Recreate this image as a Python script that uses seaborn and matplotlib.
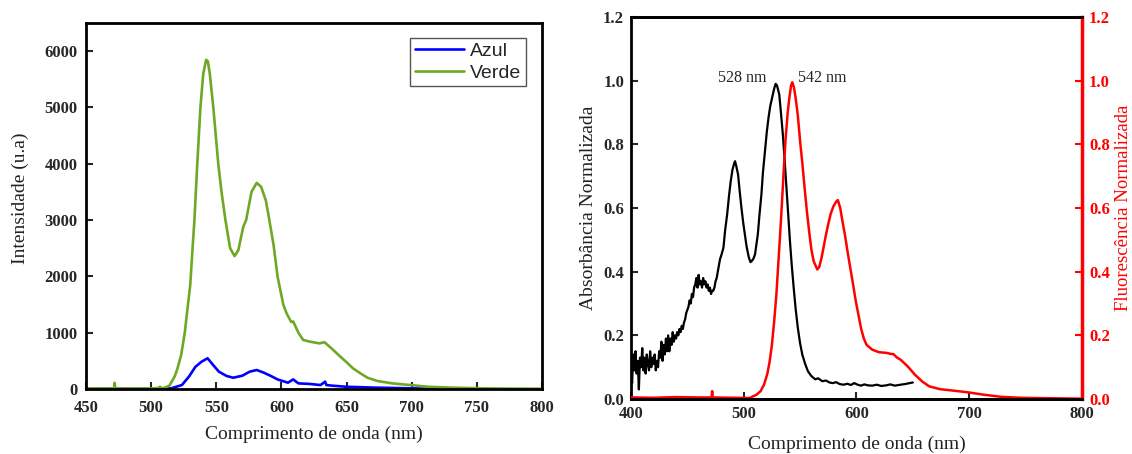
import numpy as np
import matplotlib
matplotlib.use("Agg")
import matplotlib.pyplot as plt
import seaborn as sns

# Emission spectra (left panel)
wl_verde = [450, 460, 470, 471.5, 472, 472.5, 480, 490, 500, 505, 507, 507.5,
            510, 514, 518, 520, 523, 525.8, 528, 530, 531.5, 533.2, 535.4,
            537.8, 540, 542.2, 543.5, 545, 547.7, 551.5, 554, 557, 560.6, 564,
            566.9, 570.7, 572.9, 577, 581, 584.4, 588, 590.7, 594, 597, 601.4,
            604, 607.5, 609, 610, 613, 616.7, 622, 629, 633, 635, 638.5, 644,
            649.5, 655, 660.5, 666, 674, 685, 699, 712, 729, 753, 775, 800]
int_verde = [10, 8, 10, 10, 110, 10, 8, 12, 10, 15, 40, 12,
             20, 60, 220, 350, 600, 1000, 1450, 1850, 2400, 3000, 4000,
             5000, 5600, 5845, 5820, 5600, 5000, 4000, 3500, 3000, 2500, 2360,
             2465, 2880, 3000, 3500, 3660, 3590, 3350, 3000, 2550, 2000, 1500,
             1340, 1190, 1200, 1150, 1000, 870, 840, 810, 830, 790, 720, 600,
             485, 365, 280, 200, 140, 100, 70, 40, 25, 12, 8, 5]

wl_azul = [450, 470, 490, 505, 515, 523.6, 529, 534, 538.7, 543.3, 547.6, 552,
           558, 563, 570, 575.6, 581, 586.4, 592, 597, 605, 609, 613, 621.5,
           630, 633.5, 634.5, 638.5, 649.5, 671, 699, 720]
int_azul = [5, 8, 6, 8, 10, 70, 220, 395, 485, 545, 425, 307,
            230, 200, 236, 307, 337, 290, 230, 170, 112, 170, 100, 90,
            70, 130, 70, 60, 40, 25, 12, 5]

# Normalised absorbance / fluorescence (right panel)
wl_abs = [400, 401, 402, 403, 404, 405, 406, 407, 408, 409, 410, 411, 412,
          413, 414, 415, 416, 417, 418, 419, 420, 421, 422, 423, 424, 425,
          426, 427, 428, 429, 430, 431, 432, 433, 434, 435, 436, 437, 438,
          439, 440, 441, 442, 443, 444, 445, 446, 447, 448, 449, 450, 451,
          452, 453, 454, 455, 456, 457, 458, 459, 460, 461, 462, 463, 464,
          465, 466, 467, 468, 469, 470, 471, 472, 473, 474, 475, 476, 477,
          478, 479, 480, 482, 483.5, 485.3, 487, 488.5, 490, 491.5, 492.3,
          493.5, 495, 496.5, 498, 499.5, 501, 502.5, 504.5, 506, 507, 508.5,
          510, 511, 512.5, 514, 515.7, 517, 518.9, 520.5, 522, 523.5, 525.2,
          527, 528.3, 529.5, 531.5, 533, 534.7, 536.3, 537.9, 539.5, 541,
          542.6, 544.3, 546, 548, 550, 552, 554.5, 557, 560, 563.4, 566,
          569.7, 573, 576, 579, 582, 585, 588.6, 592, 595, 598, 601, 604, 607,
          610, 614, 618, 622, 626.5, 630, 634, 639, 643, 647, 650]
absorb = [0.10, 0.05, 0.14, 0.09, 0.15, 0.08, 0.12, 0.03, 0.13, 0.10, 0.16,
          0.09, 0.13, 0.08, 0.14, 0.11, 0.09, 0.15, 0.10, 0.13, 0.11, 0.14,
          0.09, 0.12, 0.10, 0.15, 0.13, 0.18, 0.12, 0.17, 0.14, 0.19, 0.15,
          0.20, 0.15, 0.19, 0.17, 0.21, 0.18, 0.20, 0.19, 0.21, 0.20, 0.22,
          0.21, 0.23, 0.22, 0.24, 0.25, 0.27, 0.28, 0.29, 0.31, 0.30, 0.33,
          0.32, 0.35, 0.36, 0.38, 0.35, 0.39, 0.36, 0.37, 0.35, 0.38, 0.36,
          0.37, 0.35, 0.36, 0.34, 0.35, 0.33, 0.34, 0.34, 0.35, 0.37, 0.38,
          0.40, 0.42, 0.44, 0.45, 0.475, 0.53, 0.58, 0.64, 0.685, 0.72, 0.74,
          0.747, 0.73, 0.705, 0.65, 0.60, 0.555, 0.517, 0.48, 0.445, 0.43,
          0.433, 0.44, 0.454, 0.48, 0.517, 0.58, 0.643, 0.71, 0.779, 0.84,
          0.884, 0.92, 0.947, 0.975, 0.99, 0.985, 0.957, 0.90, 0.831, 0.75,
          0.663, 0.58, 0.496, 0.42, 0.35, 0.285, 0.223, 0.175, 0.139, 0.11,
          0.087, 0.072, 0.062, 0.065, 0.056, 0.058, 0.052, 0.05, 0.053, 0.047,
          0.045, 0.048, 0.044, 0.05, 0.045, 0.042, 0.046, 0.043, 0.042, 0.045,
          0.041, 0.043, 0.046, 0.042, 0.045, 0.047, 0.05, 0.052]

wl_fluo = [400, 420, 440, 460, 471.5, 472, 472.5, 490, 505, 511.6, 515, 518,
           521, 523, 525, 527, 529, 530.8, 532.5, 534, 535.5, 537, 539, 540.5,
           542, 543, 544.5, 546, 548, 550, 552, 554, 556, 558, 560, 562,
           565.3, 567, 569, 571, 573, 575, 577, 579.5, 582, 583.5, 585.6,
           587.5, 589.7, 592, 594.5, 597, 599.4, 602, 604, 606.5, 609, 614,
           620, 626.5, 630, 632.8, 636, 639, 645.3, 651.7, 658, 664.4, 674,
           686.7, 699, 712, 728, 745, 760, 780, 800]
fluor = [0.005, 0.004, 0.006, 0.005, 0.005, 0.025, 0.005, 0.004, 0.003, 0.014,
         0.025, 0.045, 0.08, 0.118, 0.17, 0.244, 0.33, 0.433, 0.53, 0.622,
         0.72, 0.81, 0.90, 0.947, 0.985, 0.995, 0.98, 0.947, 0.89, 0.81, 0.74,
         0.663, 0.59, 0.527, 0.47, 0.433, 0.407, 0.415, 0.443, 0.48, 0.517,
         0.55, 0.58, 0.605, 0.62, 0.625, 0.60, 0.56, 0.517, 0.465, 0.412,
         0.36, 0.307, 0.26, 0.223, 0.19, 0.17, 0.155, 0.147, 0.145, 0.142,
         0.141, 0.13, 0.124, 0.103, 0.077, 0.056, 0.04, 0.031, 0.026, 0.021,
         0.014, 0.007, 0.004, 0.003, 0.002, 0.001]

peak_labels = ["528 nm", "542 nm"]

sns.set_style("ticks")
plt.rcParams["font.family"] = ["Liberation Serif", "DejaVu Serif"]
plt.rcParams["xtick.direction"] = "in"
plt.rcParams["ytick.direction"] = "in"

verde = "#6fa824"
serif_big = 14
tick_size = 12

fig = plt.figure(figsize=(11.32, 4.54), dpi=100)
ax1 = fig.add_axes([0.0760, 0.1432, 0.4028, 0.8062])
ax2 = fig.add_axes([0.5574, 0.1211, 0.3984, 0.8414])
ax3 = ax2.twinx()

# Left panel: emission
sns.lineplot(x=wl_azul, y=int_azul, ax=ax1, color="#0000ff", linewidth=1.9,
             label="Azul", sort=False)
sns.lineplot(x=wl_verde, y=int_verde, ax=ax1, color=verde, linewidth=1.9,
             label="Verde", sort=False)
ax1.set_xlim(450, 800)
ax1.set_ylim(0, 6500)
ax1.set_xticks(np.arange(450, 801, 50))
ax1.set_yticks(np.arange(0, 6001, 1000))
ax1.set_xlabel("Comprimento de onda (nm)", fontsize=serif_big, color="#222222")
ax1.set_ylabel("Intensidade (u.a)", fontsize=serif_big, color="#222222")
ax1.xaxis.set_label_coords(0.5, -0.10)
ax1.yaxis.set_label_coords(-0.125, 0.52)
leg = ax1.legend(loc="upper right", bbox_to_anchor=(0.964, 0.960),
                 borderaxespad=0, fancybox=False, edgecolor="#555555",
                 framealpha=1, handlelength=2.5, handletextpad=0.3,
                 labelspacing=0.2, borderpad=0.25,
                 prop={"family": "Liberation Sans", "size": 14})
leg.get_frame().set_linewidth(1.0)

for sp in ax1.spines.values():
    sp.set_linewidth(2)
    sp.set_color("black")
ax1.tick_params(axis="both", length=5, width=1.5, labelsize=tick_size)
ax1.tick_params(axis="x", pad=8)
ax1.tick_params(axis="y", pad=6)
for lab in ax1.get_xticklabels() + ax1.get_yticklabels():
    lab.set_fontweight("bold")

# Right panel: absorbance + fluorescence
sns.lineplot(x=wl_abs, y=absorb, ax=ax2, color="black", linewidth=1.6,
             sort=False)
sns.lineplot(x=wl_fluo, y=fluor, ax=ax3, color="#ff0000", linewidth=1.8,
             sort=False)
ax2.set_xlim(400, 800)
ax2.set_ylim(0, 1.2)
ax3.set_ylim(0, 1.2)
ax2.set_xticks(np.arange(400, 801, 100))
ax2.set_yticks(np.arange(0, 1.21, 0.2))
ax3.set_yticks(np.arange(0, 1.21, 0.2))
ax2.yaxis.set_major_formatter(matplotlib.ticker.FormatStrFormatter("%.1f"))
ax3.yaxis.set_major_formatter(matplotlib.ticker.FormatStrFormatter("%.1f"))

ax2.text(520, 1.01, peak_labels[0], ha="right", va="center", fontsize=11.5,
         color="#222222")
ax2.text(548, 1.01, peak_labels[1], ha="left", va="center", fontsize=11.5,
         color="#222222")

ax2.set_xlabel("Comprimento de onda (nm)", fontsize=serif_big, color="#222222")
ax2.set_ylabel("Absorbância Normalizada", fontsize=serif_big, color="#222222")
ax3.set_ylabel("Fluorescência Normalizada", fontsize=13.5, color="#ff0000")
ax2.xaxis.set_label_coords(0.5, -0.097)
ax2.yaxis.set_label_coords(-0.075, 0.5)
ax3.yaxis.set_label_coords(1.073, 0.5)

for sp in ax2.spines.values():
    sp.set_linewidth(2)
    sp.set_color("black")
for name, sp in ax3.spines.items():
    sp.set_linewidth(2)
    sp.set_color("black")
ax3.spines["right"].set_color("#ff0000")
ax3.spines["right"].set_linewidth(2.5)
ax3.spines["left"].set_visible(False)

ax2.tick_params(axis="both", length=5, width=1.5, labelsize=tick_size, pad=5)
ax3.tick_params(axis="y", length=5, width=1.5, labelsize=tick_size, pad=5,
                colors="#ff0000")
for lab in ax2.get_xticklabels() + ax2.get_yticklabels() + ax3.get_yticklabels():
    lab.set_fontweight("bold")

fig.savefig("out.png", dpi=100)
